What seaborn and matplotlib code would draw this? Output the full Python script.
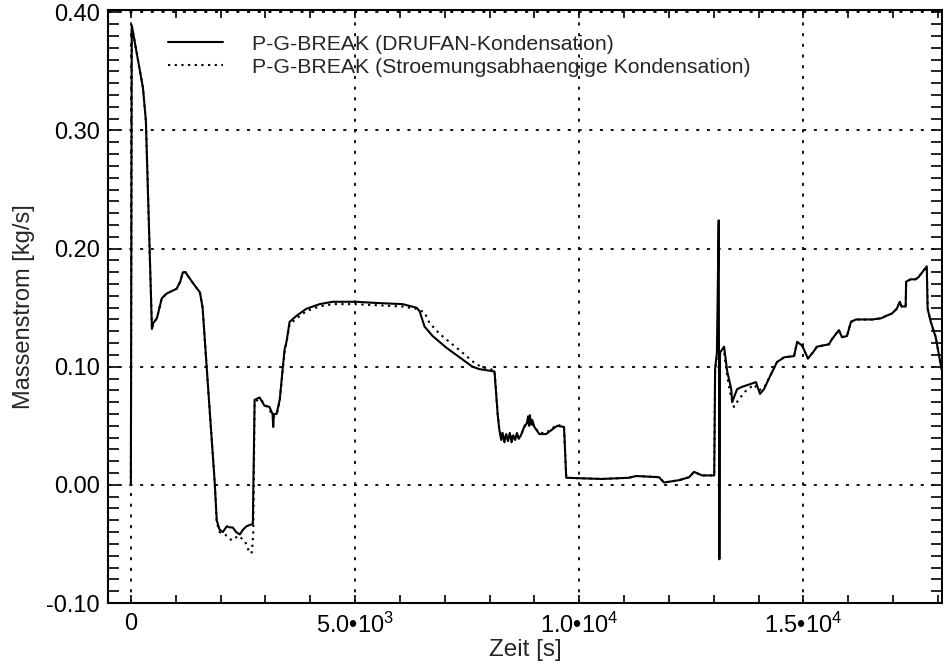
import numpy as np
import pandas as pd
import matplotlib
matplotlib.use("Agg")
import matplotlib.pyplot as plt
import seaborn as sns
from matplotlib.ticker import MultipleLocator, FuncFormatter

# Massenstrom am Bruch, Rechnung mit DRUFAN-Kondensation
zeit_drufan = [
    0, 20, 270, 335, 470, 500, 580, 690, 800, 1020, 1100, 1160, 1220, 1270,
    1420, 1540, 1600, 1690, 1870, 1915, 1980, 2050, 2140, 2200, 2270, 2350,
    2430, 2500, 2580, 2720, 2760, 2870, 2980, 3090, 3160, 3175, 3190, 3250,
    3320, 3390, 3430, 3470, 3540, 3690, 3910, 4210, 4500, 5030, 5470, 6060,
    6370, 6440, 6550, 6730, 7040, 7330, 7620, 7770, 8110, 8180, 8220, 8260,
    8290, 8330, 8370, 8410, 8450, 8490, 8530, 8570, 8610, 8650, 8700, 8780,
    8830, 8860, 8880, 8900, 8920, 8950, 9000, 9110, 9260, 9400, 9510, 9660,
    9710, 10500, 11100, 11270, 11780, 11890, 12230, 12450, 12560, 12740,
    13010, 13030, 13070, 13110, 13125, 13140, 13230, 13300, 13390, 13410,
    13520, 13630, 13790, 13940, 14030, 14120, 14230, 14410, 14570, 14790,
    14860, 14970, 15100, 15230, 15300, 15570, 15630, 15790, 15860, 15970,
    16060, 16170, 16530, 16730, 16840, 16970, 17080, 17150, 17190, 17280,
    17290, 17390, 17500, 17570, 17750, 17770, 17840, 17950, 18060, 18100,
]
strom_drufan = [
    0.000, 0.389, 0.336, 0.308, 0.132, 0.137, 0.141, 0.158, 0.162, 0.166,
    0.172, 0.180, 0.180, 0.177, 0.169, 0.163, 0.150, 0.100, 0.002, -0.030,
    -0.038, -0.040, -0.035, -0.036, -0.036, -0.040, -0.042, -0.038, -0.035,
    -0.033, 0.072, 0.074, 0.067, 0.066, 0.060, 0.049, 0.060, 0.060, 0.072,
    0.100, 0.115, 0.121, 0.138, 0.143, 0.149, 0.153, 0.155, 0.155, 0.154,
    0.153, 0.150, 0.147, 0.134, 0.126, 0.116, 0.108, 0.100, 0.098, 0.096,
    0.060, 0.046, 0.038, 0.044, 0.036, 0.043, 0.037, 0.044, 0.036, 0.042,
    0.038, 0.044, 0.039, 0.042, 0.050, 0.052, 0.058, 0.050, 0.059, 0.051,
    0.055, 0.049, 0.043, 0.043, 0.047, 0.050, 0.049, 0.006, 0.005, 0.006,
    0.0075, 0.0065, 0.002, 0.004, 0.0065, 0.011, 0.008, 0.008, 0.098,
    0.112, 0.224, -0.063, 0.112, 0.117, 0.096, 0.081, 0.070, 0.081, 0.083,
    0.085, 0.087, 0.077, 0.081, 0.090, 0.104, 0.108, 0.109, 0.121, 0.118,
    0.107, 0.113, 0.117, 0.119, 0.123, 0.131, 0.125, 0.126, 0.138, 0.140,
    0.140, 0.141, 0.143, 0.145, 0.149, 0.155, 0.151, 0.151, 0.172, 0.174,
    0.174, 0.176, 0.185, 0.149, 0.138, 0.125, 0.102, 0.095,
]

# Massenstrom am Bruch, Rechnung mit stroemungsabhaengiger Kondensation
zeit_stroem = [
    0, 20, 270, 335, 470, 500, 580, 690, 800, 1020, 1100, 1160, 1220, 1270,
    1420, 1540, 1600, 1690, 1870, 1915, 1980, 2100, 2250, 2400, 2550, 2650,
    2700, 2730, 2760, 2870, 2980, 3090, 3160, 3190, 3250, 3320, 3390, 3430,
    3470, 3540, 3700, 3910, 4200, 4500, 5000, 5500, 6060, 6370, 6550, 6660,
    6880, 7330, 7700, 7900, 8110, 8180, 8220, 8300, 8400, 8500, 8600, 8700,
    8780, 8880, 9000, 9110, 9260, 9400, 9510, 9660, 9710, 10500, 11100,
    11270, 11780, 11890, 12230, 12450, 12560, 12740, 13010, 13030, 13070,
    13140, 13230, 13300, 13380, 13450, 13550, 13700, 13900, 14000, 14120,
    14230, 14410, 14570, 14790, 14860, 14970, 15100, 15230, 15300, 15570,
    15630, 15790, 15860, 15970, 16060, 16170, 16530, 16730, 16840, 16970,
    17080, 17150, 17190, 17280, 17290, 17390, 17500, 17570, 17750, 17770,
    17840, 17950, 18060, 18100,
]
strom_stroem = [
    0.000, 0.389, 0.336, 0.308, 0.132, 0.137, 0.141, 0.158, 0.162, 0.166,
    0.172, 0.180, 0.180, 0.177, 0.169, 0.163, 0.150, 0.100, 0.002, -0.032,
    -0.040, -0.042, -0.047, -0.043, -0.048, -0.058, -0.057, -0.040, 0.070,
    0.073, 0.069, 0.064, 0.058, 0.058, 0.059, 0.071, 0.098, 0.113, 0.120,
    0.136, 0.141, 0.147, 0.151, 0.153, 0.153, 0.152, 0.151, 0.149, 0.146,
    0.137, 0.128, 0.114, 0.102, 0.099, 0.097, 0.060, 0.045, 0.041, 0.040,
    0.041, 0.040, 0.042, 0.049, 0.055, 0.049, 0.044, 0.044, 0.048, 0.051,
    0.049, 0.006, 0.005, 0.006, 0.0075, 0.0065, 0.002, 0.004, 0.0065, 0.011,
    0.008, 0.008, 0.096, 0.110, 0.110, 0.112, 0.092, 0.075, 0.066, 0.072,
    0.079, 0.085, 0.080, 0.082, 0.090, 0.104, 0.108, 0.109, 0.121, 0.118,
    0.107, 0.113, 0.117, 0.119, 0.123, 0.131, 0.125, 0.126, 0.138, 0.140,
    0.140, 0.141, 0.143, 0.145, 0.149, 0.155, 0.151, 0.151, 0.172, 0.174,
    0.174, 0.176, 0.185, 0.149, 0.138, 0.125, 0.102, 0.095,
]

label_drufan = "P-G-BREAK (DRUFAN-Kondensation)"
label_stroem = "P-G-BREAK (Stroemungsabhaengige Kondensation)"

df = pd.concat([
    pd.DataFrame({"Zeit": zeit_drufan, "Massenstrom": strom_drufan, "Rechnung": label_drufan}),
    pd.DataFrame({"Zeit": zeit_stroem, "Massenstrom": strom_stroem, "Rechnung": label_stroem}),
], ignore_index=True)

sns.set_style("white")
plt.rcParams["font.family"] = ["Liberation Sans", "DejaVu Sans"]
plt.rcParams["mathtext.fontset"] = "custom"
plt.rcParams["mathtext.rm"] = "Liberation Sans"
plt.rcParams["mathtext.it"] = "Liberation Sans"
plt.rcParams["lines.scale_dashes"] = False

fig = plt.figure(figsize=(9.43, 6.67), dpi=100)
ax = fig.add_axes([108 / 943, 64 / 667, 834 / 943, 593 / 667])

sns.lineplot(
    data=df, x="Zeit", y="Massenstrom", style="Rechnung",
    style_order=[label_drufan, label_stroem],
    dashes={label_drufan: "", label_stroem: (1.6, 3.2)},
    color="black", linewidth=1.5, sort=False, estimator=None,
    ax=ax,
)

ax.set_xlim(-510, 18090)
ax.set_ylim(-0.10, 0.402)

ax.xaxis.set_major_locator(MultipleLocator(5000))
ax.xaxis.set_minor_locator(MultipleLocator(1000))
ax.yaxis.set_major_locator(MultipleLocator(0.10))
ax.yaxis.set_minor_locator(MultipleLocator(0.01))


def zeit_fmt(v, pos):
    if abs(v) < 1e-9:
        return "0"
    e = int(np.floor(np.log10(abs(v))))
    m = v / 10 ** e
    return f"{m:.1f}\u2022" + "10$^{" + str(e) + "}$"


ax.xaxis.set_major_formatter(FuncFormatter(zeit_fmt))
ax.yaxis.set_major_formatter(FuncFormatter(lambda v, p: f"{v:.2f}"))

ax.tick_params(axis="both", which="both", direction="in",
               bottom=True, top=True, left=True, right=True,
               color="black", width=1.2, labelsize=17, labelcolor="black")
ax.tick_params(axis="x", which="both", length=6, pad=7)
ax.tick_params(axis="y", which="both", length=8, pad=6)

ax.grid(True, which="major", color="black", linewidth=1.3, linestyle=(0, (2.2, 5.5)))

for s in ax.spines.values():
    s.set_color("black")
    s.set_linewidth(1.5)

ax.set_xlabel("Zeit [s]", fontsize=17.5, labelpad=1)
ax.set_ylabel("Massenstrom [kg/s]", fontsize=17, labelpad=8)

handles, labels = ax.get_legend_handles_labels()
ax.legend(handles, labels, loc="upper left", bbox_to_anchor=(0.062, 0.973),
          frameon=False, fontsize=15.3, handlelength=2.6, handletextpad=1.35,
          labelspacing=0.2, borderaxespad=0)

fig.savefig("out.png", dpi=100)
